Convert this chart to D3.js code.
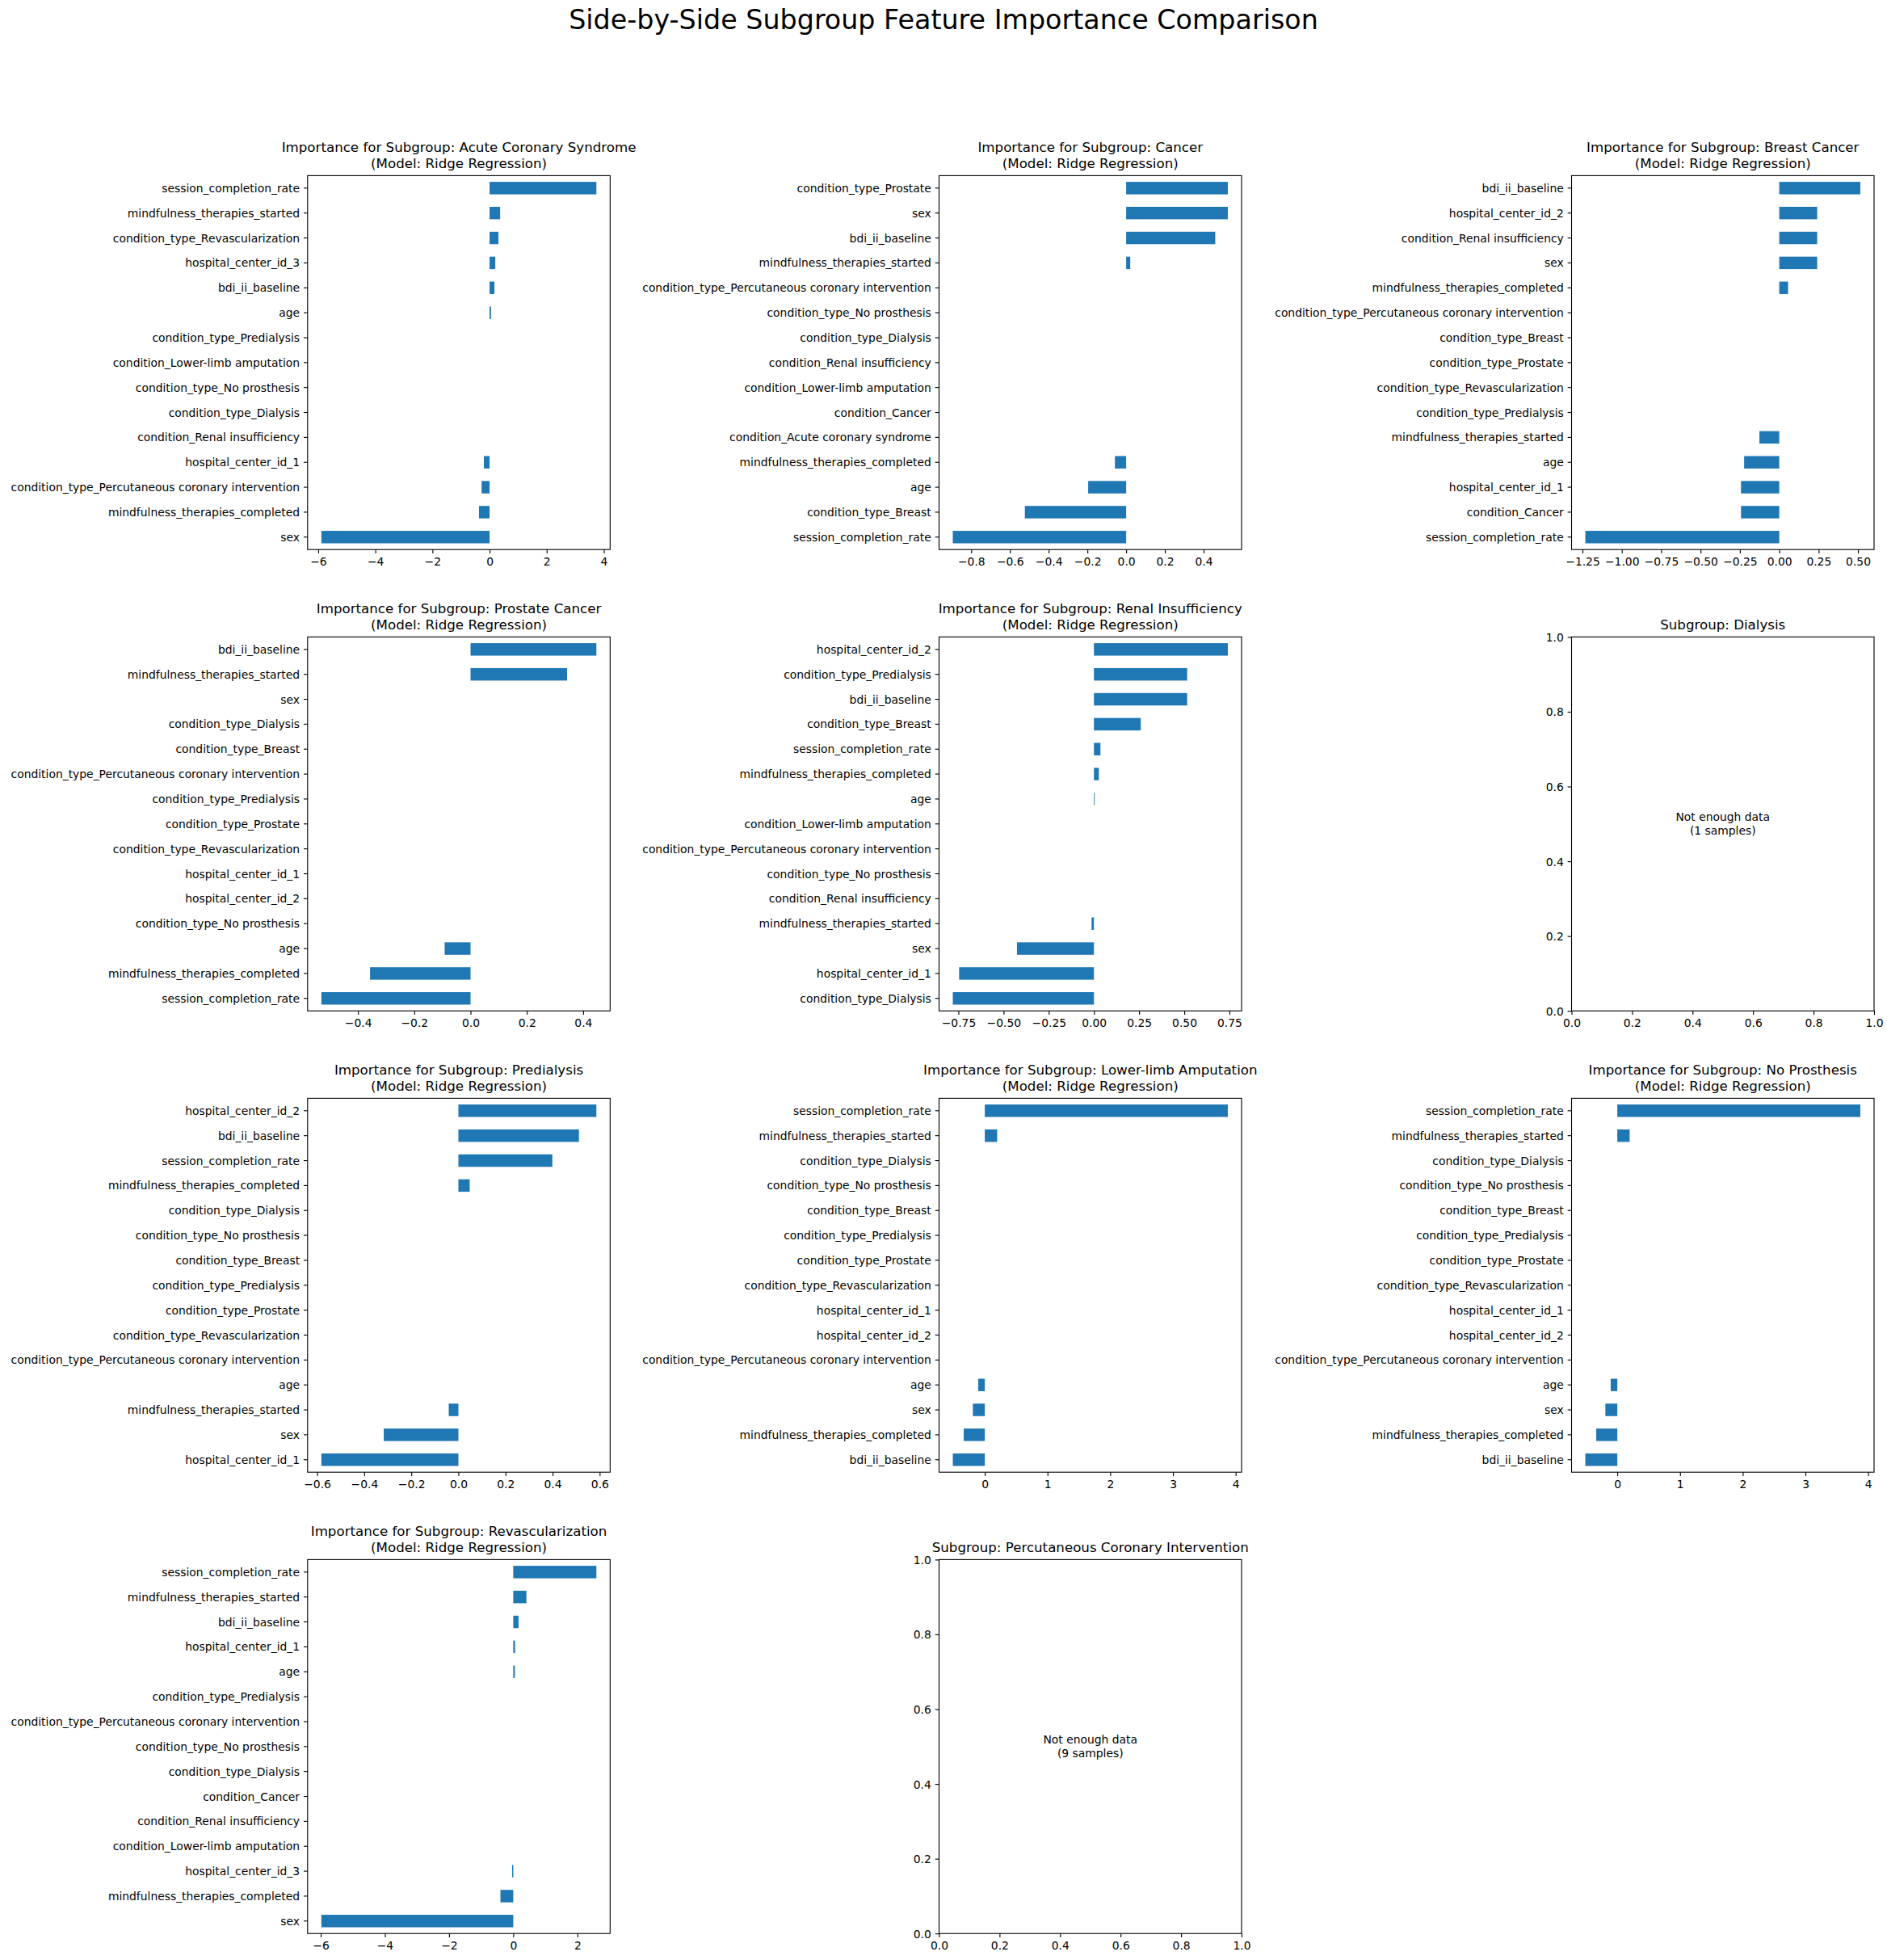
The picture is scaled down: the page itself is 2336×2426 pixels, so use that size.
<!DOCTYPE html>
<html>
<head>
<meta charset="utf-8">
<script src="https://cdn.jsdelivr.net/npm/d3@7"></script>
<style>
  body { margin: 0; background: #ffffff; }
  text { font-family: "DejaVu Sans", sans-serif; fill: #000; }
</style>
</head>
<body>
<svg id="chart"></svg>
<script>
// ---------------- DATA (features listed top to bottom as displayed) ----------------
const suptitleText = "Side-by-Side Subgroup Feature Importance Comparison";
const modelLabel = "(Model: Ridge Regression)";

const acsFeatures = ["session_completion_rate","mindfulness_therapies_started","condition_type_Revascularization","hospital_center_id_3","bdi_ii_baseline","age","condition_type_Predialysis","condition_Lower-limb amputation","condition_type_No prosthesis","condition_type_Dialysis","condition_Renal insufficiency","hospital_center_id_1","condition_type_Percutaneous coronary intervention","mindfulness_therapies_completed","sex"];
const acsValues = [3.74, 0.37, 0.31, 0.20, 0.17, 0.05, 0, 0, 0, 0, 0, -0.20, -0.28, -0.37, -5.89];
const acsTicks = [-6, -4, -2, 0, 2, 4];

const cancerFeatures = ["condition_type_Prostate","sex","bdi_ii_baseline","mindfulness_therapies_started","condition_type_Percutaneous coronary intervention","condition_type_No prosthesis","condition_type_Dialysis","condition_Renal insufficiency","condition_Lower-limb amputation","condition_Cancer","condition_Acute coronary syndrome","mindfulness_therapies_completed","age","condition_type_Breast","session_completion_rate"];
const cancerValues = [0.525, 0.525, 0.46, 0.021, 0, 0, 0, 0, 0, 0, 0, -0.058, -0.196, -0.523, -0.895];
const cancerTicks = [-0.8, -0.6, -0.4, -0.2, 0.0, 0.2, 0.4];

const breastFeatures = ["bdi_ii_baseline","hospital_center_id_2","condition_Renal insufficiency","sex","mindfulness_therapies_completed","condition_type_Percutaneous coronary intervention","condition_type_Breast","condition_type_Prostate","condition_type_Revascularization","condition_type_Predialysis","mindfulness_therapies_started","age","hospital_center_id_1","condition_Cancer","session_completion_rate"];
const breastValues = [0.515, 0.241, 0.241, 0.241, 0.056, 0, 0, 0, 0, 0, -0.126, -0.223, -0.243, -0.243, -1.232];
const breastTicks = [-1.25, -1.00, -0.75, -0.50, -0.25, 0.00, 0.25, 0.50];

const prostateFeatures = ["bdi_ii_baseline","mindfulness_therapies_started","sex","condition_type_Dialysis","condition_type_Breast","condition_type_Percutaneous coronary intervention","condition_type_Predialysis","condition_type_Prostate","condition_type_Revascularization","hospital_center_id_1","hospital_center_id_2","condition_type_No prosthesis","age","mindfulness_therapies_completed","session_completion_rate"];
const prostateValues = [0.447, 0.343, 0, 0, 0, 0, 0, 0, 0, 0, 0, 0, -0.092, -0.357, -0.530];
const prostateTicks = [-0.4, -0.2, 0.0, 0.2, 0.4];

const renalFeatures = ["hospital_center_id_2","condition_type_Predialysis","bdi_ii_baseline","condition_type_Breast","session_completion_rate","mindfulness_therapies_completed","age","condition_Lower-limb amputation","condition_type_Percutaneous coronary intervention","condition_type_No prosthesis","condition_Renal insufficiency","mindfulness_therapies_started","sex","hospital_center_id_1","condition_type_Dialysis"];
const renalValues = [0.741, 0.516, 0.516, 0.259, 0.036, 0.027, 0.004, 0, 0, 0, 0, -0.013, -0.426, -0.746, -0.781];
const renalTicks = [-0.75, -0.50, -0.25, 0.00, 0.25, 0.50, 0.75];

const predialysisFeatures = ["hospital_center_id_2","bdi_ii_baseline","session_completion_rate","mindfulness_therapies_completed","condition_type_Dialysis","condition_type_No prosthesis","condition_type_Breast","condition_type_Predialysis","condition_type_Prostate","condition_type_Revascularization","condition_type_Percutaneous coronary intervention","age","mindfulness_therapies_started","sex","hospital_center_id_1"];
const predialysisValues = [0.586, 0.512, 0.399, 0.048, 0, 0, 0, 0, 0, 0, 0, 0, -0.041, -0.317, -0.582];
const predialysisTicks = [-0.6, -0.4, -0.2, 0.0, 0.2, 0.4, 0.6];

const lowerLimbFeatures = ["session_completion_rate","mindfulness_therapies_started","condition_type_Dialysis","condition_type_No prosthesis","condition_type_Breast","condition_type_Predialysis","condition_type_Prostate","condition_type_Revascularization","hospital_center_id_1","hospital_center_id_2","condition_type_Percutaneous coronary intervention","age","sex","mindfulness_therapies_completed","bdi_ii_baseline"];
const lowerLimbValues = [3.875, 0.197, 0, 0, 0, 0, 0, 0, 0, 0, 0, -0.105, -0.19, -0.336, -0.51];
const lowerLimbTicks = [0, 1, 2, 3, 4];

const noProsthesisFeatures = ["session_completion_rate","mindfulness_therapies_started","condition_type_Dialysis","condition_type_No prosthesis","condition_type_Breast","condition_type_Predialysis","condition_type_Prostate","condition_type_Revascularization","hospital_center_id_1","hospital_center_id_2","condition_type_Percutaneous coronary intervention","age","sex","mindfulness_therapies_completed","bdi_ii_baseline"];
const noProsthesisValues = [3.875, 0.197, 0, 0, 0, 0, 0, 0, 0, 0, 0, -0.105, -0.19, -0.336, -0.51];
const noProsthesisTicks = [0, 1, 2, 3, 4];

const revascFeatures = ["session_completion_rate","mindfulness_therapies_started","bdi_ii_baseline","hospital_center_id_1","age","condition_type_Predialysis","condition_type_Percutaneous coronary intervention","condition_type_No prosthesis","condition_type_Dialysis","condition_Cancer","condition_Renal insufficiency","condition_Lower-limb amputation","hospital_center_id_3","mindfulness_therapies_completed","sex"];
const revascValues = [2.59, 0.41, 0.165, 0.055, 0.05, 0, 0, 0, 0, 0, 0, 0, -0.035, -0.40, -5.98];
const revascTicks = [-6, -4, -2, 0, 2];

const emptyTicks = [0.0, 0.2, 0.4, 0.6, 0.8, 1.0];
const dialysisSamples = 1;
const pciSamples = 9;

// ---------------- PANEL TABLE (built from the arrays) ----------------
const panels = [
  {kind:"bar", title:"Importance for Subgroup: Acute Coronary Syndrome", features:acsFeatures, values:acsValues, ticks:acsTicks, dec:0},
  {kind:"bar", title:"Importance for Subgroup: Cancer", features:cancerFeatures, values:cancerValues, ticks:cancerTicks, dec:1},
  {kind:"bar", title:"Importance for Subgroup: Breast Cancer", features:breastFeatures, values:breastValues, ticks:breastTicks, dec:2},
  {kind:"bar", title:"Importance for Subgroup: Prostate Cancer", features:prostateFeatures, values:prostateValues, ticks:prostateTicks, dec:1},
  {kind:"bar", title:"Importance for Subgroup: Renal Insufficiency", features:renalFeatures, values:renalValues, ticks:renalTicks, dec:2},
  {kind:"empty", title:"Subgroup: Dialysis", samples:dialysisSamples},
  {kind:"bar", title:"Importance for Subgroup: Predialysis", features:predialysisFeatures, values:predialysisValues, ticks:predialysisTicks, dec:1},
  {kind:"bar", title:"Importance for Subgroup: Lower-limb Amputation", features:lowerLimbFeatures, values:lowerLimbValues, ticks:lowerLimbTicks, dec:0},
  {kind:"bar", title:"Importance for Subgroup: No Prosthesis", features:noProsthesisFeatures, values:noProsthesisValues, ticks:noProsthesisTicks, dec:0},
  {kind:"bar", title:"Importance for Subgroup: Revascularization", features:revascFeatures, values:revascValues, ticks:revascTicks, dec:0},
  {kind:"empty", title:"Subgroup: Percutaneous Coronary Intervention", samples:pciSamples}
];

// ---------------- LAYOUT ----------------
const W = 2336, H = 2426;
const colLefts = [380.8, 1162.5, 1945.5];
const axW = 374.5, axH = 462.8;
const rowTop0 = 217.4, rowStep = 571;
const tickFont = 13.89, titleFont = 16.67;
const tickLen = 4.86, tickPad = 4.86;
const lineW = 1.11;
const barColor = "#1f77b4";

const svg = d3.select("#chart").attr("width", W).attr("height", H);
svg.append("rect").attr("width", W).attr("height", H).attr("fill", "#fff");

svg.append("text")
  .attr("x", W / 2).attr("y", 36)
  .attr("text-anchor", "middle")
  .style("font-size", "33.33px")
  .text(suptitleText);

function fmt(dec) {
  const f = d3.format("." + dec + "f");
  return v => f(v).replace("-", "\u2212");
}

function styleAxis(g) {
  g.select(".domain").remove();
  g.selectAll(".tick line").attr("stroke", "#000").attr("stroke-width", lineW);
  g.selectAll(".tick text").style("font-size", tickFont + "px").attr("fill", "#000")
    .style("font-family", "'DejaVu Sans', sans-serif");
}

function drawTitle(g, lines) {
  const n = lines.length;
  const base = -8.33 - 1;
  lines.forEach((ln, i) => {
    g.append("text")
      .attr("x", axW / 2)
      .attr("y", base - (n - 1 - i) * 20.2)
      .attr("text-anchor", "middle")
      .style("font-size", titleFont + "px")
      .text(ln);
  });
}

function drawFrame(g) {
  g.append("rect")
    .attr("x", 0).attr("y", 0).attr("width", axW).attr("height", axH)
    .attr("fill", "none").attr("stroke", "#000").attr("stroke-width", lineW);
}

panels.forEach((p, idx) => {
  const col = idx % 3, row = Math.floor(idx / 3);
  const g = svg.append("g")
    .attr("transform", `translate(${colLefts[col]},${rowTop0 + row * rowStep})`);

  if (p.kind === "bar") {
    const lo = Math.min(0, d3.min(p.values));
    const hi = Math.max(0, d3.max(p.values));
    const r = hi - lo;
    const x = d3.scaleLinear().domain([lo - 0.05 * r, hi + 0.05 * r]).range([0, axW]);
    const y = d3.scaleBand().domain(p.features).range([0, axH]).paddingInner(0.5).paddingOuter(0.25);

    const data = p.features.map((f, i) => ({f, v: p.values[i]}));
    g.selectAll("rect.bar").data(data).enter().append("rect")
      .attr("class", "bar")
      .attr("x", d => x(Math.min(0, d.v)))
      .attr("width", d => Math.abs(x(d.v) - x(0)))
      .attr("y", d => y(d.f))
      .attr("height", y.bandwidth())
      .attr("fill", barColor);

    const xa = g.append("g").attr("transform", `translate(0,${axH})`)
      .call(d3.axisBottom(x).tickValues(p.ticks).tickFormat(fmt(p.dec))
        .tickSize(tickLen).tickPadding(tickPad).tickSizeOuter(0));
    styleAxis(xa);
    xa.selectAll(".tick text").attr("dy", "0.76em");

    const ya = g.append("g")
      .call(d3.axisLeft(y).tickSize(tickLen).tickPadding(tickPad).tickSizeOuter(0));
    styleAxis(ya);
    ya.selectAll(".tick text").attr("dy", "0.36em");

    drawFrame(g);
    drawTitle(g, [p.title, modelLabel]);
  } else {
    const x = d3.scaleLinear().domain([0, 1]).range([0, axW]);
    const y = d3.scaleLinear().domain([0, 1]).range([axH, 0]);
    const xa = g.append("g").attr("transform", `translate(0,${axH})`)
      .call(d3.axisBottom(x).tickValues(emptyTicks).tickFormat(fmt(1))
        .tickSize(tickLen).tickPadding(tickPad).tickSizeOuter(0));
    styleAxis(xa);
    xa.selectAll(".tick text").attr("dy", "0.76em");
    const ya = g.append("g")
      .call(d3.axisLeft(y).tickValues(emptyTicks).tickFormat(fmt(1))
        .tickSize(tickLen).tickPadding(tickPad).tickSizeOuter(0));
    styleAxis(ya);
    ya.selectAll(".tick text").attr("dy", "0.36em");
    drawFrame(g);
    drawTitle(g, [p.title]);

    const cx = x(0.5), cy = y(0.5);
    g.append("text").attr("x", cx).attr("y", cy - 3.5)
      .attr("text-anchor", "middle").style("font-size", tickFont + "px")
      .text("Not enough data");
    g.append("text").attr("x", cx).attr("y", cy + 13)
      .attr("text-anchor", "middle").style("font-size", tickFont + "px")
      .text(`(${p.samples} samples)`);
  }
});
</script>
</body>
</html>
